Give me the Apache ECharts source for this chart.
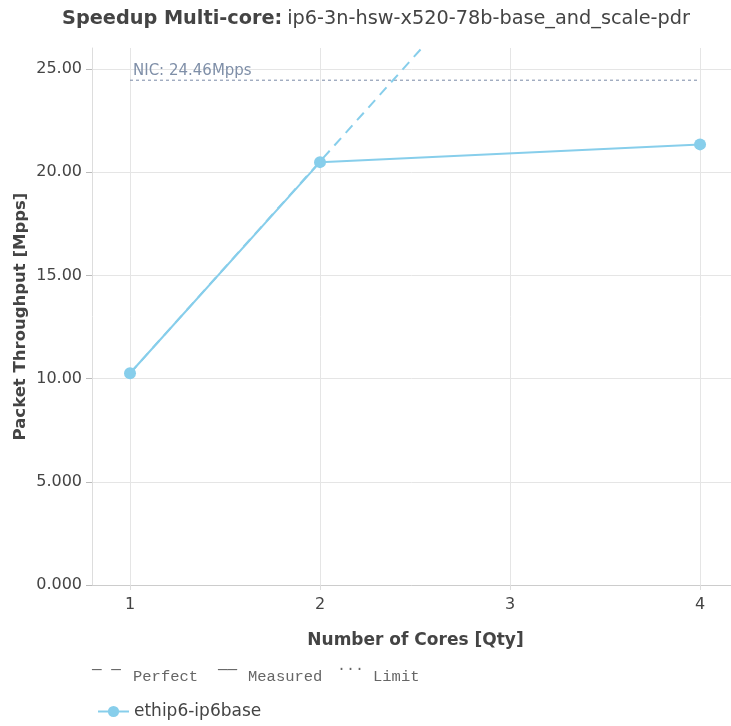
<!DOCTYPE html>
<html>
<head>
<meta charset="utf-8">
<script src="https://cdn.jsdelivr.net/npm/echarts@6/dist/echarts.min.js"></script>
<style>
html,body{margin:0;padding:0;background:#fff;}
#chart{width:731px;height:726px;}
</style>
</head>
<body>
<div id="chart"></div>
<script>
// Data
var cores = [1, 2, 3, 4];
var measuredCores = [1, 2, 4];
var measuredValues = [10.26, 20.49, 21.35];
var perfectValues = [10.26, 20.52, 30.78, 41.04];
var nicLimit = 24.46;
var nicLabel = 'NIC: 24.46Mpps';
var yTicks = [0, 5, 10, 15, 20, 25];
var seriesName = 'ethip6-ip6base';

var color = '#87ceeb';
var font = 'DejaVu Sans';
var mono = 'Liberation Mono';

var chart = echarts.init(document.getElementById('chart'), null, {renderer: 'canvas'});

var measuredData = measuredCores.map(function (c, i) { return [c, measuredValues[i]]; });
var perfectData = cores.map(function (c, i) { return [c, perfectValues[i]]; });
var nicData = [[cores[0], nicLimit], [cores[cores.length - 1], nicLimit]];

var option = {
  animation: false,
  backgroundColor: '#fff',
  title: {
    text: '{b|Speedup Multi-core:} {n|ip6-3n-hsw-x520-78b-base_and_scale-pdr}',
    left: 371, top: 4, textAlign: 'center',
    textStyle: {
      fontWeight: 'normal',
      rich: {
        b: {fontFamily: font, fontSize: 19.3, fontWeight: 'bold', color: '#444'},
        n: {fontFamily: font, fontSize: 19.3, fontWeight: 'normal', color: '#444'}
      }
    }
  },
  grid: {left: 92, right: 0, top: 48, bottom: 141, containLabel: false},
  legend: {
    data: [seriesName],
    left: 97, top: 703, padding: 0,
    itemWidth: 31, itemHeight: 14, itemGap: 10,
    textStyle: {fontFamily: font, fontSize: 17, color: '#444'}
  },
  xAxis: {
    type: 'value', min: 0.8, max: 4.163,
    name: 'Number of Cores [Qty]', nameLocation: 'middle', nameGap: 47, nameMoveOverlap: false,
    nameTextStyle: {fontFamily: font, fontSize: 17, fontWeight: 'bold', color: '#444', verticalAlign: 'top',
      padding: [0, 0, 0, 8]},
    axisLine: {show: true, lineStyle: {color: '#ccc', width: 1}},
    axisTick: {show: true, customValues: cores, length: 5, lineStyle: {color: '#ddd'}},
    axisLabel: {customValues: cores, fontFamily: font, fontSize: 16, color: '#444', margin: 12,
      formatter: function (v) { return String(v); }},
    splitLine: {show: true, lineStyle: {color: '#e5e5e5', width: 1}}
  },
  yAxis: {
    type: 'value', min: 0, max: 26.02, interval: 5,
    name: 'Packet Throughput [Mpps]', nameLocation: 'middle', nameGap: 63, nameMoveOverlap: false,
    nameTextStyle: {fontFamily: font, fontSize: 16.5, fontWeight: 'bold', color: '#444'},
    axisLine: {show: true, lineStyle: {color: '#ddd', width: 1}},
    axisTick: {show: true, length: 6, lineStyle: {color: '#bbb'}},
    axisLabel: {fontFamily: font, fontSize: 16, color: '#444', margin: 10,
      showMaxLabel: false,
      formatter: function (v) { return v.toPrecision(4); }},
    splitLine: {show: true, showMaxLine: false, lineStyle: {color: '#e5e5e5', width: 1}}
  },
  graphic: [
    {type: 'text', left: 92, top: 662, style: {text: '\u2014 \u2014', fontFamily: mono, fontSize: 16, fill: '#666'}},
    {type: 'text', left: 133, top: 669, style: {text: 'Perfect', fontFamily: mono, fontSize: 15.5, fill: '#666'}},
    {type: 'text', left: 218, top: 662, style: {text: '\u2014\u2014', fontFamily: mono, fontSize: 16, fill: '#666'}},
    {type: 'text', left: 248, top: 669, style: {text: 'Measured', fontFamily: mono, fontSize: 15.5, fill: '#666'}},
    {type: 'text', left: 337, top: 659, style: {text: '...', fontFamily: mono, fontSize: 15, fill: '#666'}},
    {type: 'text', left: 373, top: 669, style: {text: 'Limit', fontFamily: mono, fontSize: 15.5, fill: '#666'}}
  ],
  series: [
    {
      name: 'perfect', type: 'line', data: perfectData,
      showSymbol: false, symbol: 'none', clip: true, silent: true,
      lineStyle: {color: color, width: 2, type: [10, 7]}, z: 2
    },
    {
      name: 'nic', type: 'line', data: nicData,
      showSymbol: false, symbol: 'none', silent: true,
      lineStyle: {color: '#7a8aa6', width: 1, type: [3, 3]},
      label: {show: false},
      markPoint: {
        symbol: 'circle', symbolSize: 0,
        data: [{coord: [cores[0], nicLimit], value: nicLabel}],
        label: {show: true, position: 'right', formatter: nicLabel, fontFamily: font, fontSize: 15,
          color: '#7f8fa8', offset: [-2, -9]}
      },
      z: 1
    },
    {
      name: seriesName, type: 'line', data: measuredData,
      symbol: 'circle', symbolSize: 12, showSymbol: true,
      itemStyle: {color: color},
      lineStyle: {color: color, width: 2}, z: 3
    }
  ]
};
chart.setOption(option);
</script>
</body>
</html>
